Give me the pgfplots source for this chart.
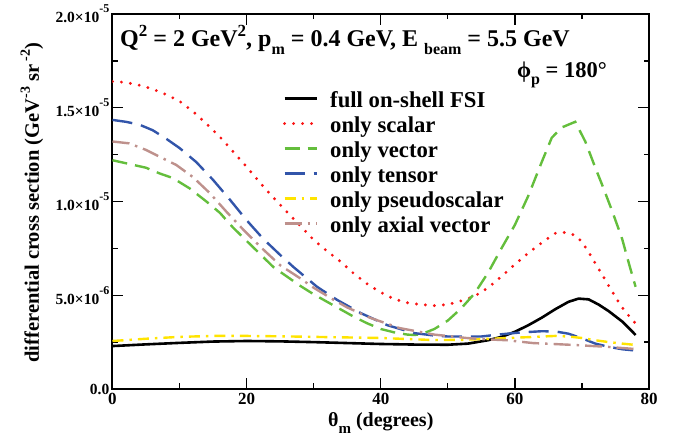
\documentclass[border=0pt]{standalone}
\usepackage{fontspec}
\setmainfont{Liberation Serif}
\usepackage{pgfplots}
\pgfplotsset{compat=1.18}
\usetikzlibrary{calc}
\definecolor{cred}{RGB}{250,20,20}
\definecolor{cgreen}{RGB}{100,190,60}
\definecolor{cblue}{RGB}{50,85,170}
\definecolor{cyellow}{RGB}{255,228,0}
\definecolor{cbrown}{RGB}{190,145,140}
\newcommand\tsup[1]{\raisebox{10pt}{\fontsize{12}{12}\selectfont #1}}
\newcommand\bsup[1]{\raisebox{10pt}{\fontsize{17}{17}\selectfont #1}}
\newcommand\bsub[1]{\raisebox{-8pt}{\fontsize{16}{16}\selectfont #1}}
\newcommand\xsub[1]{\raisebox{-7pt}{\fontsize{15}{15}\selectfont #1}}
\newcommand\psub[1]{\raisebox{-7pt}{\fontsize{16}{16}\selectfont #1}}
\newcommand\lsup[1]{\raisebox{9pt}{\fontsize{14}{14}\selectfont #1}}

\pgfplotstableread{
x y
0 2.29
5 2.38
10 2.46
15 2.53
20 2.56
25 2.54
30 2.50
35 2.45
40 2.40
45 2.37
50 2.36
53 2.42
56 2.60
58 2.78
60 3.05
62 3.40
64 3.80
66 4.25
68 4.65
69.5 4.82
71 4.78
72.5 4.50
74 4.15
76 3.60
77 3.25
78 2.88
}\fullfsi

\pgfplotstableread{
x y
0 16.4
2 16.35
4 16.2
6 16.0
8 15.7
10 15.35
12 14.8
14 14.15
16 13.45
18 12.65
20 11.85
22 11.0
24 10.2
26 9.45
28 8.7
30 7.95
32 7.35
34 6.8
36 6.15
38 5.6
40 5.15
42 4.8
44 4.6
46 4.5
48 4.45
50 4.5
52 4.7
54 4.95
56 5.4
58 6.0
60 6.65
62 7.25
64 7.8
66 8.3
67.5 8.35
69 8.2
70 7.85
71 7.3
72 6.7
73 6.1
74 5.5
75 4.9
76 4.35
77 3.9
78 3.5
}\scalar

\pgfplotstableread{
x y
0 12.2
2.5 12.0
5 11.8
7 11.5
9 11.25
11.5 10.7
14 10.0
16 9.4
18 8.6
20 7.9
22 7.2
24 6.5
26 6.0
28 5.5
30 5.05
32 4.65
34 4.25
36 3.85
38 3.5
40 3.2
42 3.02
44 2.9
45 2.88
46 2.92
48 3.2
50 3.65
52 4.3
54 5.1
56 6.2
58 7.5
60 8.75
62 10.3
64 12.1
65.5 13.4
67 13.95
69 14.25
70.5 13.2
72 11.8
73 10.9
74.5 9.5
76 8.0
77 6.7
78 5.45
}\vector

\pgfplotstableread{
x y
0 14.35
2 14.25
4 14.1
6 13.8
8 13.35
10 12.85
12.5 12.1
15 11.15
17.5 10.1
20 9.0
22.5 8.0
25 7.15
27 6.5
30.5 5.45
33.5 4.75
37 4.05
41 3.4
45 2.98
48 2.85
50 2.8
55 2.8
58 2.92
61 3.02
64 3.08
66 3.07
68 2.95
70 2.7
72 2.42
74 2.25
76 2.12
78 2.05
}\tensor

\pgfplotstableread{
x y
0 2.56
5 2.68
10 2.78
15 2.83
20 2.83
25 2.81
30 2.78
35 2.75
40 2.72
45 2.65
48 2.61
52 2.62
55 2.66
59 2.72
63 2.78
66 2.83
68 2.8
70 2.72
72 2.6
74 2.5
76 2.42
78 2.35
}\pseudo

\pgfplotstableread{
x y
0 13.2
2.5 13.1
5 12.75
7.5 12.3
9.5 11.95
12 11.3
14.5 10.45
17 9.45
19.5 8.5
22 7.6
25 6.6
28 5.9
30 5.4
33 4.75
35 4.35
38.4 3.8
42.8 3.25
48 2.9
52.8 2.72
55 2.66
58.8 2.6
62.7 2.45
68.7 2.35
73.7 2.25
78 2.13
}\axial

\begin{document}
\begin{tikzpicture}
\begin{axis}[name=ax, scale only axis, width=536.5pt, height=375pt,
  xmin=0, xmax=80, ymin=0, ymax=20,
  xtick={0,20,40,60,80}, xticklabels={0,20,40,60,80},
  ytick={0,5,10,15,20},
  yticklabels={0.0,5.0×10\tsup{-6},1.0×10\tsup{-5},1.5×10\tsup{-5},2.0×10\tsup{-5}},
  minor x tick num=1, minor y tick num=1,
  tick align=inside, major tick length=11pt, minor tick length=5.5pt,
  every tick/.style={line width=1.3pt, black},
  axis line style={line width=2pt},
  ticklabel style={font=\fontsize{15.5}{15.5}\selectfont\bfseries},
  yticklabel style={inner sep=3pt},
  xticklabel style={inner sep=4pt, font=\fontsize{17}{17}\selectfont\bfseries},
  xlabel={θ\xsub{m} (degrees)},
  xlabel style={at={(axis description cs:0.5,-0.0987)}, anchor=base, font=\fontsize{20}{20}\selectfont\bfseries},
  ylabel={differential cross section (GeV\lsup{-3} sr\lsup{ -2})},
  ylabel style={at={(axis description cs:-0.15,0.497)}, anchor=center, font=\fontsize{20.5}{20.5}\selectfont\bfseries},
  clip mode=individual,
  legend style={draw=none, fill=none, at={(axis description cs:0.3178,0.8053)}, anchor=north west,
    inner sep=0pt, outer sep=0pt, font=\fontsize{22.7}{22.7}\selectfont\bfseries, row sep=2pt, column sep=12pt,
    nodes={inner sep=0pt, text height=20pt, text depth=3pt}},
  legend cell align=left,
  legend image code/.code={\draw[#1] (0pt,0pt) -- (32pt,0pt);},
  every axis plot/.append style={line width=2.4pt},
]
\addplot[black, line width=2.6pt] table {\fullfsi};
\addlegendentry{full on-shell FSI}
\addplot[cred, line width=3.2pt, line cap=round, dash pattern=on 0pt off 9pt] table {\scalar};
\addlegendentry{only scalar}
\addplot[cgreen, dash pattern=on 15pt off 8pt] table {\vector};
\addlegendentry{only vector}
\addplot[cblue, dash pattern=on 20pt off 9pt] table {\tensor};
\addlegendentry{only tensor}
\addplot[cyellow, dash pattern=on 11pt off 6pt on 2.5pt off 6pt] table {\pseudo};
\addlegendentry{only pseudoscalar}
\addplot[cbrown, dash pattern=on 17pt off 6pt on 2.5pt off 6pt] table {\axial};
\addlegendentry{only axial vector}
\node[anchor=base west, font=\fontsize{24}{24}\selectfont\bfseries, inner sep=0pt] at (axis cs:1.12,18.24)
  {Q\bsup{2} = 2 GeV\bsup{2}, p\bsub{m} = 0.4 GeV, E \bsub{beam} = 5.5 GeV};
\node[anchor=base west, font=\fontsize{22.5}{22.5}\selectfont\bfseries, inner sep=0pt] at (axis cs:60.3,16.59)
  {ϕ\psub{p} = 180°};
\end{axis}
\pgfresetboundingbox
\path ($(ax.south west)+(-112.5pt,-49pt)$) rectangle ($(ax.north east)+(29pt,14pt)$);
\end{tikzpicture}
\end{document}
